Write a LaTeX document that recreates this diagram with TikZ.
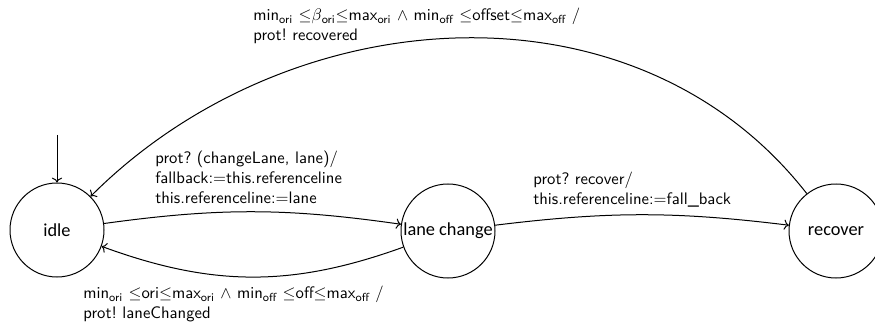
\documentclass[tikz,border=0pt]{standalone}
\usepackage{fontspec}
\newfontfamily\statefont{Carlito}
\usetikzlibrary{arrows.meta}
\frenchspacing
\begin{document}
\begin{tikzpicture}[x=0.6pt,y=0.6pt,
  state/.style={circle,draw,line width=0.6pt,minimum size=56.4pt,inner sep=0pt,
    font=\statefont\fontsize{11}{13}\selectfont},
  trans/.style={->,line width=0.6pt},
  guard/.style={anchor=north west,inner sep=0pt,align=left,font=\sffamily}]
\useasboundingbox (0,0) rectangle (875,322);

% states
\node[state] (idle)    at (57,92)  {idle};
\node[state] (lane)    at (448,91) {lane change};
\node[state] (recover) at (836,91) {recover};

% initial marker
\coordinate (init) at (57,187);
\draw[trans] (init) -- (idle.north);

% transitions
\draw[trans] (idle) to[bend left=8] (lane);
\draw[trans] (lane) to[bend left=20] (idle);
\draw[trans] (lane) to[bend left=7] (recover);
\draw[trans] (recover.128) .. controls +(128:280) and +(45:280) .. (idle.45);

% transition labels
\node[guard] (gTop) at (253,314) {min\textsubscript{ori} $\leq$$\beta$\textsubscript{ori}$\leq$max\textsubscript{ori} $\wedge$ min\textsubscript{off} $\leq$offset$\leq$max\textsubscript{off} /\\prot! recovered};
\node[guard] (gChange) at (155,171) {prot? (changeLane, lane)/\\fallback:$=$this.referenceline\\this.referenceline:$=$lane};
\node[guard] (gRecover) at (533,150) {prot? recover/\\this.referenceline:$=$fall\_back};
\node[guard] (gBack) at (83,36) {min\textsubscript{ori} $\leq$ori$\leq$max\textsubscript{ori} $\wedge$ min\textsubscript{off} $\leq$off$\leq$max\textsubscript{off} /\\prot! laneChanged};
\end{tikzpicture}
\end{document}
